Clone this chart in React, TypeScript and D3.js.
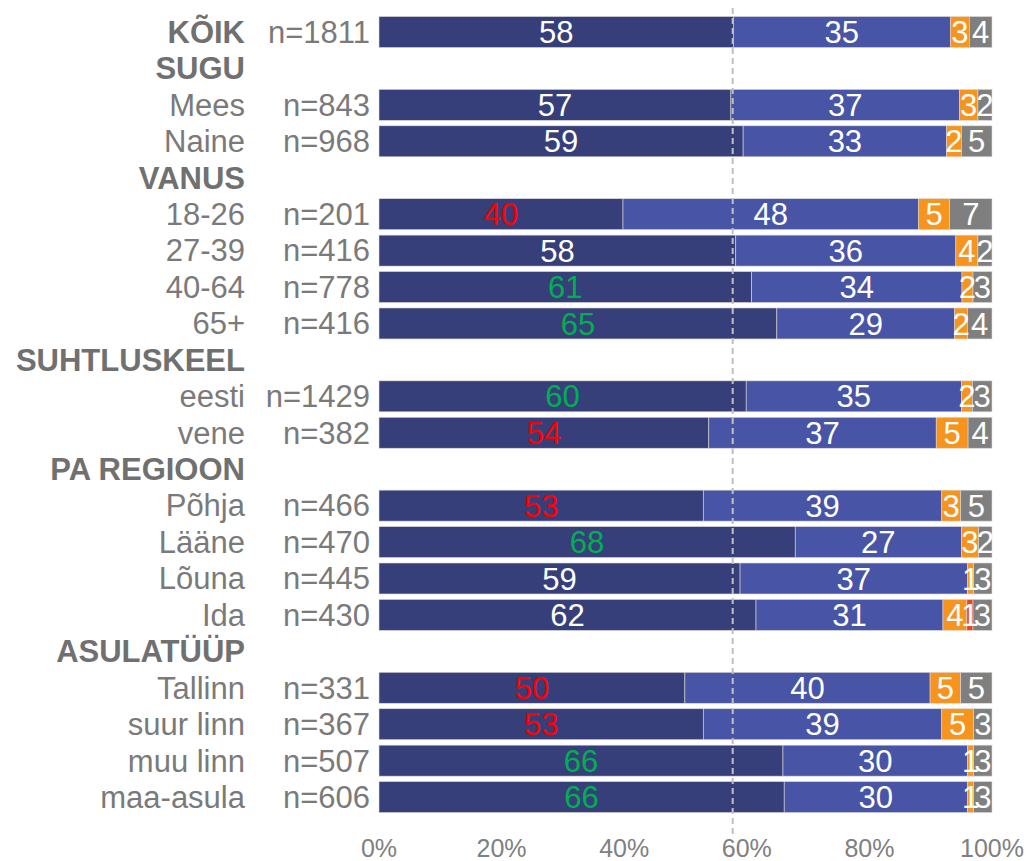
import React from "react";
import * as d3 from "d3";

const rowLabels = ["KÕIK", "SUGU", "Mees", "Naine", "VANUS", "18-26", "27-39", "40-64", "65+", "SUHTLUSKEEL", "eesti", "vene", "PA REGIOON", "Põhja", "Lääne", "Lõuna", "Ida", "ASULATÜÜP", "Tallinn", "suur linn", "muu linn", "maa-asula"];
const boldRows = [true, true, false, false, true, false, false, false, false, true, false, false, true, false, false, false, false, true, false, false, false, false];
const nLabels = ["n=1811", "", "n=843", "n=968", "", "n=201", "n=416", "n=778", "n=416", "", "n=1429", "n=382", "", "n=466", "n=470", "n=445", "n=430", "", "n=331", "n=367", "n=507", "n=606"];
// segment values per row (null for header rows)
const seg1 = [57.8, null, 57.4, 59.4, null, 39.8, 58.2, 60.8, 64.9, null, 59.9, 53.8, null, 52.9, 67.9, 58.9, 61.5, null, 49.9, 52.9, 65.9, 66.1];
const seg2 = [35.4, null, 37.3, 33.2, null, 48.2, 35.9, 34.3, 29.0, null, 35.1, 37.1, null, 38.9, 27.1, 37.1, 30.5, null, 40.0, 38.9, 30.1, 29.9];
const seg3 = [3.1, null, 3.0, 2.4, null, 5.1, 3.6, 1.8, 2.1, null, 1.8, 5.2, null, 3.1, 2.8, 1.0, 3.9, null, 5.0, 5.2, 1.0, 1.0];
const seg4 = [0, null, 0, 0, null, 0, 0, 0, 0, null, 0, 0, null, 0, 0, 0, 1.0, null, 0, 0, 0, 0];
const seg5 = [3.7, null, 2.3, 5.0, null, 6.9, 2.3, 3.1, 4.0, null, 3.2, 3.9, null, 5.1, 2.2, 3.0, 3.1, null, 5.1, 3.0, 3.0, 3.0];
// label significance for first segment: 0 normal, -1 lower, 1 higher
const sig = [0, 0, 0, 0, 0, -1, 0, 1, 1, 0, 1, -1, 0, -1, 1, 0, 0, 0, -1, -1, 1, 1];
const tickValues = [0, 20, 40, 60, 80, 100];
const referenceValue = 57.7;

const segColors = ["#363F7A", "#4855A6", "#F7941D", "#E8461E", "#7F7F7F"];

export default function App() {
  const width = 1029;
  const height = 861;
  const x = d3.scaleLinear().domain([0, 100]).range([379, 992]);
  const y = d3.scaleBand<string>().domain(rowLabels.map((d, i) => String(i))).range([13.8, 815.3]).paddingInner(0.15).paddingOuter(0.075);
  const bw = y.bandwidth();
  const font = "'Liberation Sans', Arial, sans-serif";
  const segs = [seg1, seg2, seg3, seg4, seg5];

  return (
    <svg width={width} height={height} style={{ position: "absolute", left: 0, top: 0 }} fontFamily={font}>
      <rect width={width} height={height} fill="#fff" />
      {rowLabels.map((lab, i) => {
        const yy = y(String(i))!;
        const cy = yy + bw / 2;
        const items: React.ReactNode[] = [];
        items.push(
          <text key="l" x={245} y={cy} dy="0.35em" textAnchor="end" fontSize={31} fontWeight={boldRows[i] ? "bold" : "normal"} fill={boldRows[i] ? "#707070" : "#7a7a7a"}>{lab}</text>
        );
        if (nLabels[i]) {
          items.push(<text key="n" x={370} y={cy} dy="0.35em" textAnchor="end" fontSize={31} fill="#7a7a7a">{nLabels[i]}</text>);
        }
        if (seg1[i] !== null) {
          let acc = 0;
          segs.forEach((s, k) => {
            const v = s[i] as number;
            if (!v) return;
            const x0 = x(acc);
            const x1 = x(acc + v);
            acc += v;
            items.push(<rect key={"r" + k} x={x0} y={yy} width={x1 - x0} height={bw} fill={segColors[k]} stroke="#d9d9d9" strokeWidth={0.6} />);
          });
          acc = 0;
          segs.forEach((s, k) => {
            const v = s[i] as number;
            if (!v) return;
            const cx = x(acc + v / 2);
            acc += v;
            let col = "#fff";
            if (k === 0 && sig[i] === -1) col = "#FF0000";
            if (k === 0 && sig[i] === 1) col = "#00B050";
            items.push(<text key={"t" + k} x={cx} y={cy} dy="0.36em" textAnchor="middle" fontSize={31} fill={col}>{Math.round(v)}</text>);
          });
        }
        return <g key={i}>{items}</g>;
      })}
      <line x1={x(referenceValue)} x2={x(referenceValue)} y1={8} y2={836} stroke="#BFBFBF" strokeWidth={2} strokeDasharray="6,4" />
      {tickValues.map((t) => (
        <text key={t} x={x(t)} y={848} dy="0.35em" textAnchor="middle" fontSize={25} fill="#808080">{t + "%"}</text>
      ))}
    </svg>
  );
}
